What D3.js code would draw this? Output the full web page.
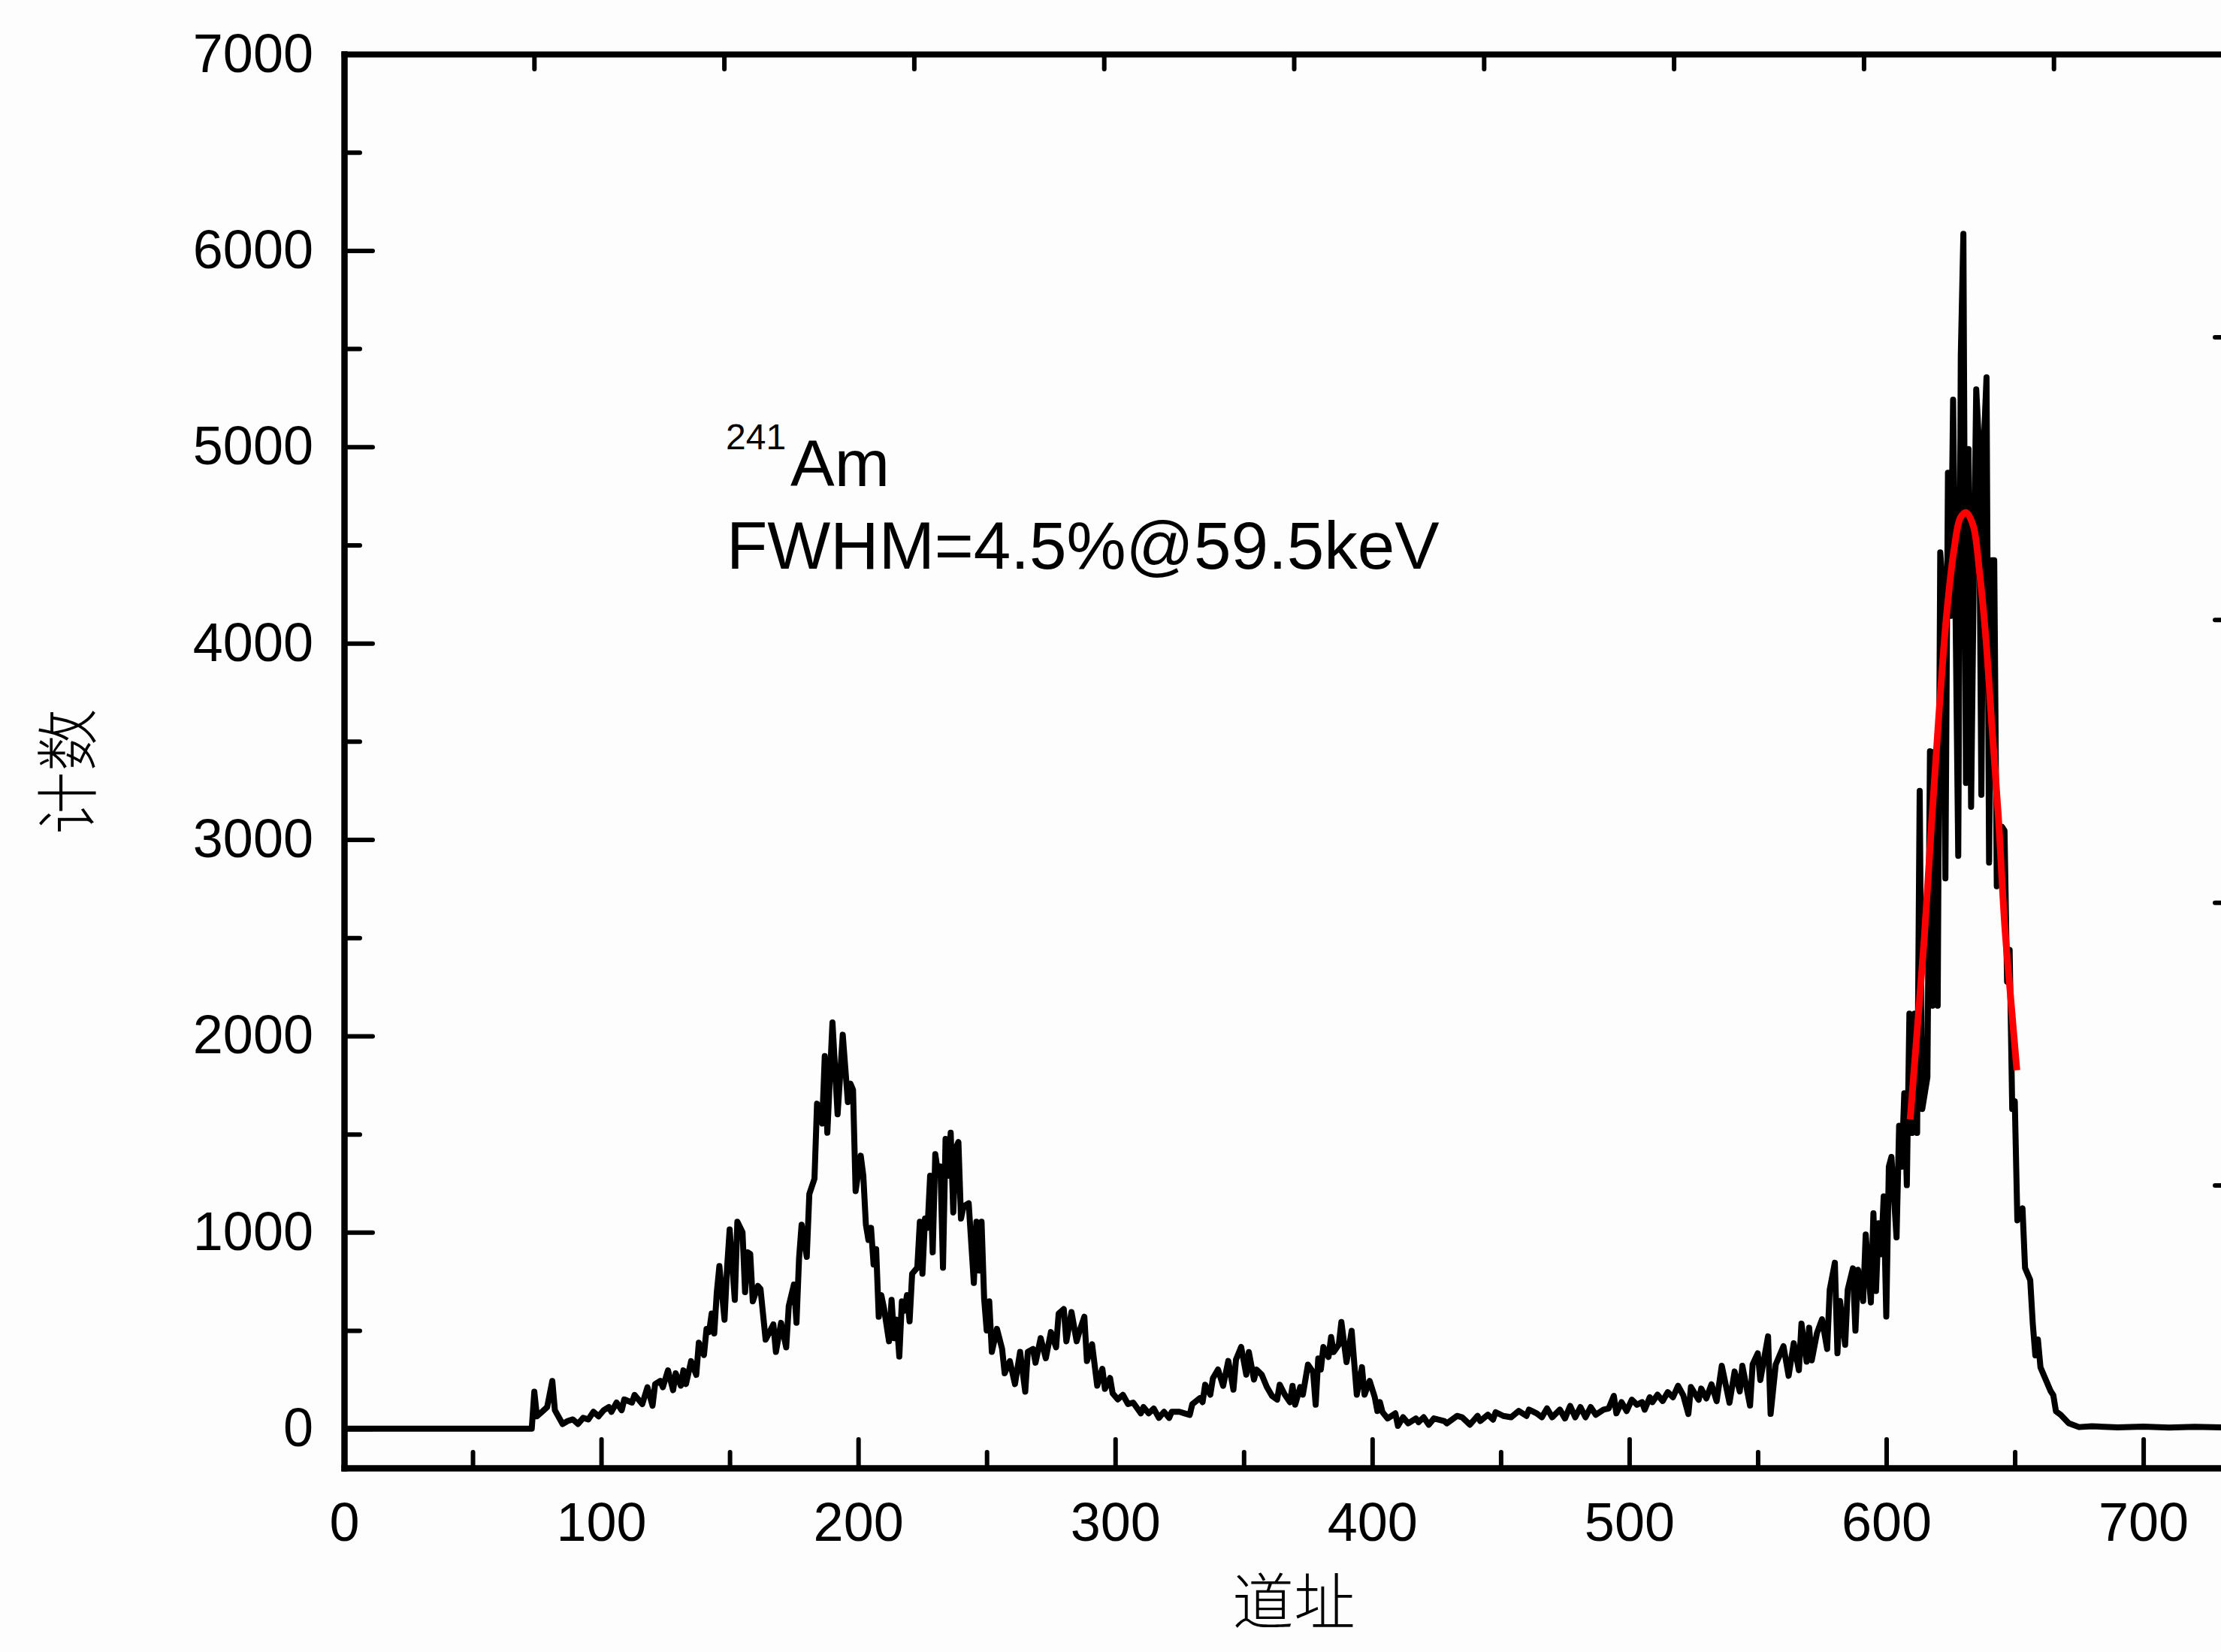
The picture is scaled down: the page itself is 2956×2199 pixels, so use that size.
<!DOCTYPE html>
<html>
<head>
<meta charset="utf-8">
<script src="https://cdn.jsdelivr.net/npm/d3@7"></script>
<style>
  body { margin: 0; background: #fdfdfd; }
  svg { display: block; }
</style>
</head>
<body>
<script>
// size of the picture
var width = 2956,
    height = 2199;

// spectrum: channel and counts
var channels = [0, 73, 74, 75, 77, 79, 81, 82, 85, 87, 89, 91, 93, 95, 97, 99, 101, 103, 104, 106, 108, 109, 112, 113, 116, 118, 120, 121, 123, 124, 126, 128, 129, 131, 132, 133, 135, 137, 138, 140, 141, 142, 143, 144, 145, 146, 148, 149, 150, 152, 153, 155, 156, 157, 158, 159, 161, 162, 164, 167, 168, 170, 172, 173, 175, 176, 177, 178, 180, 181, 183, 184, 186, 187, 188, 190, 192, 194, 196, 197, 198, 199, 201, 202, 203, 204, 205, 206, 207, 208, 209, 210, 212, 213, 214, 215, 216, 217, 218, 219, 220, 221, 223, 224, 225, 226, 227, 228, 229, 230, 231, 232, 233, 234, 235, 236, 237, 238, 239, 240, 241, 243, 245, 246, 247, 248, 249, 250, 251, 252, 254, 256, 257, 259, 261, 263, 265, 266, 268, 269, 271, 273, 275, 277, 278, 280, 281, 283, 285, 286, 288, 289, 291, 293, 295, 296, 298, 299, 301, 303, 305, 307, 310, 311, 313, 315, 317, 319, 321, 322, 325, 327, 329, 330, 333, 334, 335, 337, 338, 340, 342, 344, 346, 347, 349, 351, 352, 354, 355, 357, 359, 361, 363, 364, 366, 368, 369, 370, 372, 373, 375, 377, 378, 379, 380, 381, 383, 384, 385, 387, 388, 390, 392, 394, 396, 397, 399, 401, 402, 403, 404, 406, 409, 410, 412, 414, 417, 418, 420, 422, 424, 428, 429, 433, 435, 438, 441, 442, 445, 447, 448, 451, 454, 457, 460, 461, 464, 466, 468, 470, 473, 475, 477, 479, 481, 483, 485, 487, 490, 492, 494, 495, 497, 499, 501, 503, 505, 506, 508, 509, 511, 513, 515, 517, 519, 521, 523, 524, 527, 528, 530, 532, 534, 536, 539, 541, 543, 544, 547, 548, 550, 551, 554, 555, 557, 560, 562, 564, 566, 567, 569, 570, 571, 573, 575, 577, 578, 580, 581, 582, 584, 585, 587, 588, 589, 591, 592, 594, 595, 596, 597, 598, 599, 600, 601, 602, 604, 605, 606, 607, 608, 609, 610, 611, 612, 613, 614, 616, 617, 618, 619, 620, 621, 622, 623, 624, 625, 626, 627, 628, 629, 630, 631, 632, 633, 634, 635, 636, 637, 638, 639, 640, 641, 642, 643, 645, 646, 647, 648, 649, 650, 651, 653, 654, 656, 657, 658, 659, 660, 662, 664, 665, 666, 668, 671, 675, 680, 690, 700, 710, 720, 730, 739];
var counts = [0, 0, 188, 63, 86, 110, 243, 94, 24, 39, 47, 24, 55, 47, 86, 63, 94, 110, 86, 133, 94, 149, 133, 172, 125, 211, 117, 227, 243, 211, 297, 196, 282, 219, 297, 227, 344, 274, 438, 375, 508, 492, 586, 485, 695, 828, 555, 820, 1015, 656, 1054, 1000, 695, 898, 890, 648, 727, 711, 453, 531, 391, 539, 414, 625, 734, 539, 867, 1039, 875, 1195, 1273, 1655, 1554, 1897, 1507, 2069, 1601, 2006, 1663, 1757, 1725, 1210, 1390, 1288, 1039, 961, 1023, 836, 914, 570, 680, 617, 445, 656, 461, 555, 367, 648, 601, 680, 547, 789, 820, 1054, 789, 1070, 1023, 1288, 898, 1398, 1304, 1335, 820, 1476, 1288, 1507, 1101, 1429, 1460, 1070, 1132, 1148, 742, 1054, 805, 1054, 664, 500, 648, 391, 508, 406, 282, 344, 227, 391, 188, 391, 406, 336, 461, 359, 492, 414, 586, 609, 445, 594, 445, 492, 570, 344, 430, 219, 305, 203, 258, 180, 149, 172, 125, 133, 78, 110, 78, 102, 55, 86, 55, 86, 86, 78, 70, 125, 156, 135, 224, 173, 256, 301, 218, 345, 199, 352, 416, 275, 390, 250, 301, 275, 212, 167, 148, 224, 173, 135, 218, 122, 212, 173, 326, 288, 122, 358, 301, 416, 365, 467, 390, 428, 543, 339, 498, 173, 313, 173, 243, 160, 90, 135, 84, 52, 78, 14, 58, 27, 52, 33, 58, 20, 52, 39, 27, 65, 58, 20, 65, 39, 71, 46, 84, 65, 58, 90, 65, 97, 78, 58, 103, 58, 97, 52, 116, 58, 110, 58, 110, 71, 97, 103, 167, 78, 135, 90, 148, 122, 135, 97, 160, 135, 173, 141, 186, 160, 218, 170, 75, 212, 147, 204, 154, 226, 140, 320, 132, 291, 190, 320, 118, 327, 384, 248, 470, 75, 327, 420, 269, 435, 298, 535, 341, 514, 348, 485, 557, 406, 708, 845, 384, 650, 427, 708, 816, 499, 809, 650, 989, 643, 1097, 701, 1046, 888, 1183, 571, 1334, 1384, 974, 1543, 1334, 1708, 1240, 2114, 1506, 2114, 1506, 3248, 1628, 1790, 3450, 2154, 3450, 2154, 4463, 4286, 2802, 4868, 4139, 5240, 4100, 2917, 5468, 6085, 3288, 4989, 3167, 4300, 5293, 5030, 3228, 5030, 5354, 2883, 4422, 4422, 2762, 3065, 3045, 2276, 2438, 1628, 1668, 1061, 1122, 818, 757, 535, 373, 454, 312, 251, 190, 170, 89, 69, 28, 8, 12, 7, 10, 6, 9, 7, 9];

// gaussian fit of the full-energy peak
var fitChannels = [609.3, 611.8, 614.8, 617.7, 620.6, 623.5, 626.4, 628.9, 631.1, 633.8, 636.3, 638.6, 641.2, 643.6, 646.1, 648.5, 650.8];
var fitCounts = [1575, 1990, 2500, 3100, 3660, 4150, 4480, 4640, 4665, 4600, 4360, 4050, 3560, 3120, 2560, 2180, 1825];

// tick values
var xTicks = [0, 100, 200, 300, 400, 500, 600, 700];
var xMinorTicks = [50, 150, 250, 350, 450, 550, 650];
var yTicks = [0, 1000, 2000, 3000, 4000, 5000, 6000, 7000];
var yMinorTicks = [500, 1500, 2500, 3500, 4500, 5500, 6500];
var topTicks = [1, 2, 3, 4, 5, 6, 7, 8, 9];
var rightTicks = [1, 2, 3, 4];

// text
var xTitle = '道址',
    yTitle = '计数',
    isotopeMass = '241',
    isotopeName = 'Am',
    resolutionText = 'FWHM=4.5%@59.5keV';

// plot box (window.top is taken, so prefix the names)
var boxLeft = 458, boxRight = 2986, boxTop = 72, boxBottom = 1954;

var svg = d3.select('body')
  .append('svg')
  .attr('width', width)
  .attr('height', height)
  .style('background', '#fdfdfd');

// scales
var x = d3.scaleLinear().domain([0, 739]).range([boxLeft, boxRight]);
var y = d3.scaleLinear().domain([-200, 7000]).range([boxBottom, boxTop]);
// the opposite axes of the box carry their own plain divisions
var xTop = d3.scaleLinear().domain([0, 10]).range([boxLeft, boxRight]);
var yRight = d3.scaleLinear().domain([0, 5]).range([boxBottom, boxTop]);

var numFont = "'Liberation Sans', Arial, sans-serif";
var cjkFont = "'Noto Sans CJK SC', sans-serif";
var plain = d3.format('d');

// helper to style an axis group
function styleAxis(g, tickWidth) {
  g.select('.domain')
    .attr('stroke', '#000')
    .attr('stroke-width', 8)
    .attr('stroke-linecap', 'square');
  g.selectAll('.tick line')
    .attr('stroke', '#000')
    .attr('stroke-width', tickWidth)
    .attr('stroke-linecap', 'round');
  g.selectAll('.tick text')
    .attr('fill', '#000')
    .style('font-family', numFont)
    .style('font-size', '72px');
}

// minor ticks first so the main axes sit on top
svg.append('g')
  .attr('transform', 'translate(0,' + boxBottom + ')')
  .call(d3.axisBottom(x).tickValues(xMinorTicks).tickSize(-21).tickSizeOuter(0).tickFormat(''))
  .call(styleAxis, 6);

svg.append('g')
  .attr('transform', 'translate(' + boxLeft + ',0)')
  .call(d3.axisLeft(y).tickValues(yMinorTicks).tickSize(-21).tickSizeOuter(0).tickFormat(''))
  .call(styleAxis, 6);

// top and right sides of the frame
svg.append('g')
  .attr('transform', 'translate(0,' + boxTop + ')')
  .call(d3.axisTop(xTop).tickValues(topTicks).tickSize(-20).tickSizeOuter(0).tickFormat(''))
  .call(styleAxis, 6);

svg.append('g')
  .attr('transform', 'translate(' + boxRight + ',0)')
  .call(d3.axisRight(yRight).tickValues(rightTicks).tickSize(-38).tickSizeOuter(0).tickFormat(''))
  .call(styleAxis, 6);

// main axes with labels
svg.append('g')
  .attr('transform', 'translate(0,' + boxBottom + ')')
  .call(d3.axisBottom(x).tickValues(xTicks).tickSize(-38).tickSizeOuter(0).tickPadding(46).tickFormat(plain))
  .call(styleAxis, 6);

svg.append('g')
  .attr('transform', 'translate(' + boxLeft + ',0)')
  .call(d3.axisLeft(y).tickValues(yTicks).tickSize(-38).tickSizeOuter(0).tickPadding(41).tickFormat(plain))
  .call(styleAxis, 6);

// the spectrum
var points = d3.zip(channels, counts);
var line = d3.line()
  .x(function(d) { return x(d[0]); })
  .y(function(d) { return y(d[1]); });

svg.append('path')
  .datum(points)
  .attr('d', line)
  .attr('fill', 'none')
  .attr('stroke', '#000')
  .attr('stroke-width', 8)
  .attr('stroke-linejoin', 'round');

// the red fit curve
var fitLine = d3.line()
  .curve(d3.curveCatmullRom)
  .x(function(d) { return x(d[0]); })
  .y(function(d) { return y(d[1]); });

svg.append('path')
  .datum(d3.zip(fitChannels, fitCounts))
  .attr('d', fitLine)
  .attr('fill', 'none')
  .attr('stroke', '#ff0000')
  .attr('stroke-width', 9);

// axis titles
svg.append('text')
  .attr('x', (boxLeft + boxRight) / 2)
  .attr('y', 2162)
  .attr('text-anchor', 'middle')
  .style('font-family', cjkFont)
  .style('font-weight', 300)
  .style('font-size', '82px')
  .text(xTitle);

svg.append('text')
  .attr('transform', 'translate(121,1027) rotate(-90)')
  .attr('text-anchor', 'middle')
  .style('font-family', cjkFont)
  .style('font-weight', 300)
  .style('font-size', '84px')
  .text(yTitle);

// annotation
svg.append('text')
  .attr('x', 966)
  .attr('y', 598)
  .style('font-family', numFont)
  .style('font-size', '48px')
  .text(isotopeMass);

svg.append('text')
  .attr('x', 1052)
  .attr('y', 647)
  .style('font-family', numFont)
  .style('font-size', '88px')
  .text(isotopeName);

svg.append('text')
  .attr('x', 967)
  .attr('y', 757)
  .style('font-family', numFont)
  .style('font-size', '89px')
  .text(resolutionText);
</script>
</body>
</html>
